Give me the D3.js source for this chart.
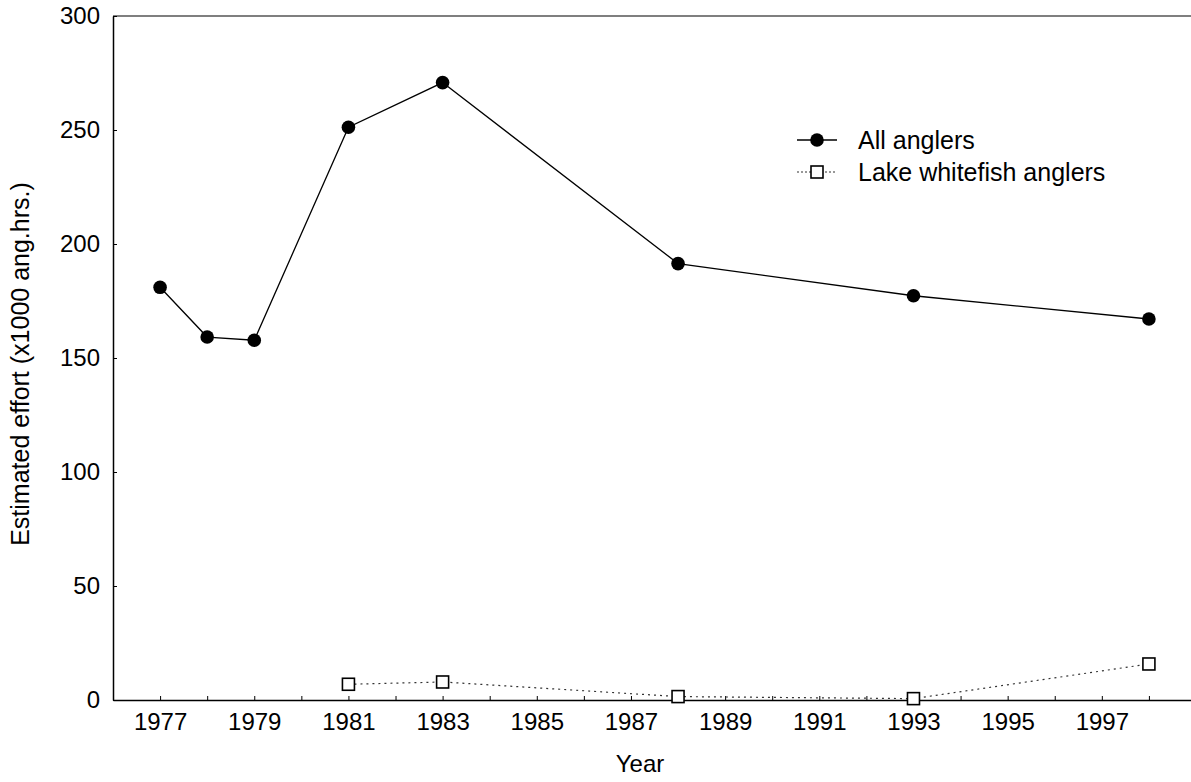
<!DOCTYPE html>
<html>
<head>
<meta charset="utf-8">
<script src="https://cdn.jsdelivr.net/npm/d3@7"></script>
<style>
  html, body { margin: 0; padding: 0; background: #fff; }
  svg { display: block; }
  text { font-family: "Liberation Sans", Arial, sans-serif; fill: #000; }
</style>
</head>
<body>
<svg id="chart" width="1191" height="782"></svg>
<script>
// ---- data ----
const allYears = [1977, 1978, 1979, 1981, 1983, 1988, 1993, 1998];
const allAnglers = [181, 159.2, 157.8, 251.2, 270.8, 191.4, 177.3, 167.1];
const whiteYears = [1981, 1983, 1988, 1993, 1998];
const whitefishAnglers = [6.9, 7.9, 1.5, 0.6, 15.8];
const yTicks = [0, 50, 100, 150, 200, 250, 300];
const xTickYears = d3.range(1977, 1999); // minor ticks every year
const xLabelYears = [1977, 1979, 1981, 1983, 1985, 1987, 1989, 1991, 1993, 1995, 1997];
const seriesNames = ["All anglers", "Lake whitefish anglers"];
const xLabel = "Year";
const yLabel = "Estimated effort (x1000 ang.hrs.)";

// ---- layout ----
const svg = d3.select("#chart");
const pLeft = 113, pRight = 1196, pTop = 16, pBottom = 700;
const x = d3.scaleLinear().domain([1976, 1999]).range([pLeft, pRight]);
const y = d3.scaleLinear().domain([0, 300]).range([pBottom, pTop]);
const fs = 24, fsL = 25;

// frame: top line
svg.append("line").attr("x1", pLeft).attr("x2", pRight).attr("y1", pTop).attr("y2", pTop)
  .attr("stroke", "#000").attr("stroke-width", 1.2);

// y axis
const yAxis = svg.append("g").attr("transform", `translate(${pLeft},0)`)
  .call(d3.axisLeft(y).tickValues(yTicks).tickSize(-4).tickPadding(13).tickSizeOuter(0));
yAxis.select(".domain").attr("stroke", "#000").attr("stroke-width", 1.5);
yAxis.selectAll(".tick line").attr("stroke", "#000").attr("stroke-width", 1);
yAxis.selectAll(".tick text").attr("font-size", fs).attr("font-family", "Liberation Sans, Arial, sans-serif");

// x axis
const xAxis = svg.append("g").attr("transform", `translate(0,${pBottom})`)
  .call(d3.axisBottom(x).tickValues(xTickYears).tickSize(-4).tickSizeOuter(0)
    .tickPadding(13)
    .tickFormat(d => xLabelYears.includes(d) ? String(d) : ""));
xAxis.select(".domain").attr("stroke", "#000").attr("stroke-width", 1.5);
xAxis.selectAll(".tick line").attr("stroke", "#000").attr("stroke-width", 1);
xAxis.selectAll(".tick text").attr("font-size", fs).attr("font-family", "Liberation Sans, Arial, sans-serif");

// axis titles
svg.append("text").attr("x", 640).attr("y", 772).attr("text-anchor", "middle")
  .attr("font-size", fs).text(xLabel);
svg.append("text").attr("transform", `translate(29,${(pTop + pBottom) / 2 + 6}) rotate(-90)`)
  .attr("text-anchor", "middle").attr("font-size", fsL).text(yLabel);

// series
const allData = allYears.map((d, i) => ({ x: d, y: allAnglers[i] }));
const whiteData = whiteYears.map((d, i) => ({ x: d, y: whitefishAnglers[i] }));
const line = d3.line().x(d => x(d.x)).y(d => y(d.y));

svg.append("path").datum(whiteData).attr("d", line).attr("fill", "none")
  .attr("stroke", "#333").attr("stroke-width", 1.2).attr("stroke-dasharray", "2,4");
svg.append("path").datum(allData).attr("d", line).attr("fill", "none")
  .attr("stroke", "#000").attr("stroke-width", 1.3);

svg.selectAll("circle.all").data(allData).join("circle").attr("class", "all")
  .attr("cx", d => x(d.x)).attr("cy", d => y(d.y)).attr("r", 6.8).attr("fill", "#000");

const sq = 12;
svg.selectAll("rect.wf").data(whiteData).join("rect").attr("class", "wf")
  .attr("x", d => x(d.x) - sq / 2).attr("y", d => y(d.y) - sq / 2)
  .attr("width", sq).attr("height", sq).attr("fill", "#fff")
  .attr("stroke", "#000").attr("stroke-width", 1.6);

// legend
const lg = svg.append("g");
const lx0 = 797, lx1 = 837, lcx = 817, ltx = 858;
const ly = [140, 172];
lg.append("line").attr("x1", lx0).attr("x2", lx1).attr("y1", ly[0]).attr("y2", ly[0])
  .attr("stroke", "#000").attr("stroke-width", 1.3);
lg.append("circle").attr("cx", lcx).attr("cy", ly[0]).attr("r", 6.8).attr("fill", "#000");
lg.append("text").attr("x", ltx).attr("y", ly[0]).attr("dy", "0.35em").attr("font-size", fsL).text(seriesNames[0]);
lg.append("line").attr("x1", lx0).attr("x2", lx1).attr("y1", ly[1]).attr("y2", ly[1])
  .attr("stroke", "#333").attr("stroke-width", 1.2).attr("stroke-dasharray", "2,2");
lg.append("rect").attr("x", lcx - sq / 2).attr("y", ly[1] - sq / 2).attr("width", sq).attr("height", sq)
  .attr("fill", "#fff").attr("stroke", "#000").attr("stroke-width", 1.6);
lg.append("text").attr("x", ltx).attr("y", ly[1]).attr("dy", "0.35em").attr("font-size", fsL).text(seriesNames[1]);
</script>
</body>
</html>
